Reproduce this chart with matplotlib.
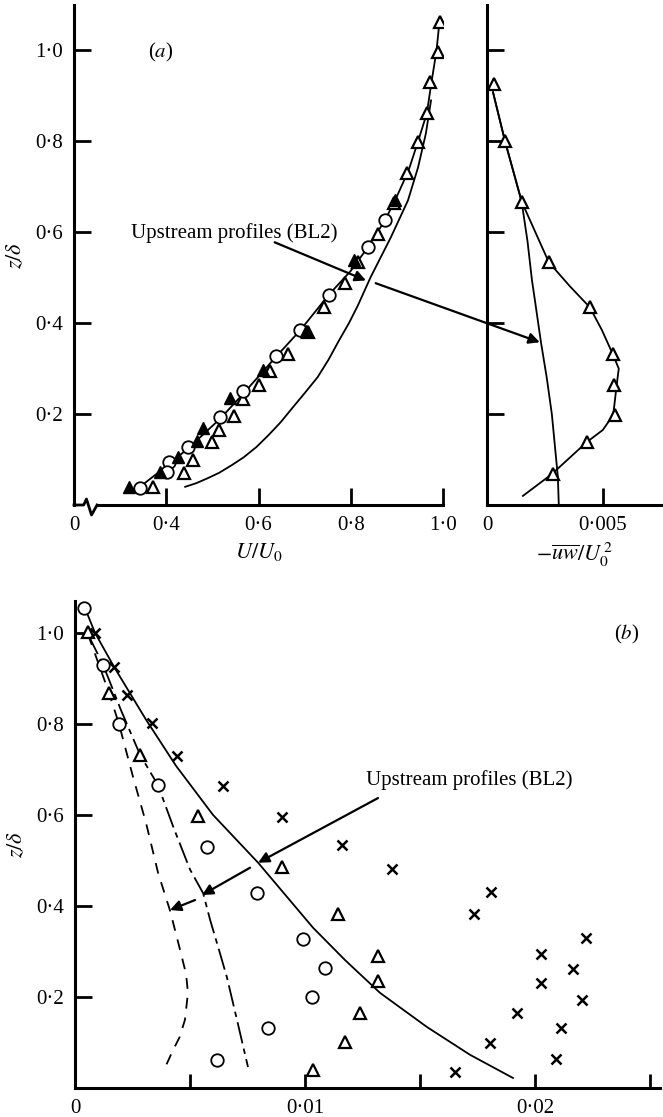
import matplotlib
matplotlib.use("Agg")
import matplotlib.pyplot as plt
from matplotlib.transforms import blended_transform_factory

plt.rcParams['font.family'] = ['Liberation Serif', 'DejaVu Serif']
plt.rcParams['mathtext.fontset'] = 'stix'
plt.rcParams['font.size'] = 15

# ---- (a) mean velocity, U/U0 against z/delta ----
u_tri = [0.993, 0.989, 0.972, 0.965, 0.946, 0.922, 0.893, 0.859, 0.815, 0.787, 0.741,
         0.707, 0.663, 0.626, 0.602, 0.567, 0.546, 0.515, 0.500, 0.459, 0.439, 0.372]
z_tri = [1.062, 0.996, 0.930, 0.862, 0.798, 0.730, 0.664, 0.596, 0.534, 0.488, 0.435,
         0.380, 0.332, 0.295, 0.264, 0.233, 0.196, 0.165, 0.138, 0.100, 0.070, 0.040]
u_circ = [0.874, 0.837, 0.752, 0.691, 0.637, 0.567, 0.517, 0.448, 0.407, 0.402, 0.343]
z_circ = [0.626, 0.567, 0.462, 0.385, 0.327, 0.250, 0.193, 0.127, 0.094, 0.073, 0.037]
u_fill = [0.896, 0.807, 0.704, 0.609, 0.539, 0.480, 0.467, 0.426, 0.387, 0.320]
z_fill = [0.670, 0.538, 0.382, 0.297, 0.235, 0.169, 0.141, 0.105, 0.073, 0.040]
u_fit = [0.311, 0.343, 0.400, 0.448, 0.517, 0.567, 0.637, 0.691, 0.752, 0.800, 0.837,
         0.874, 0.896, 0.925, 0.946, 0.965, 0.975, 0.986, 0.993]
z_fit = [0.029, 0.040, 0.085, 0.125, 0.190, 0.245, 0.325, 0.385, 0.462, 0.515, 0.567,
         0.626, 0.670, 0.735, 0.800, 0.862, 0.930, 1.000, 1.070]
u_up = [0.441, 0.465, 0.490, 0.515, 0.541, 0.568, 0.596, 0.622, 0.648, 0.673, 0.700,
        0.728, 0.752, 0.774, 0.796, 0.815, 0.843, 0.887, 0.924, 0.946, 0.963, 0.974]
z_up = [0.040, 0.048, 0.059, 0.071, 0.087, 0.105, 0.128, 0.154, 0.182, 0.213, 0.246,
        0.281, 0.320, 0.361, 0.400, 0.438, 0.501, 0.589, 0.670, 0.743, 0.818, 0.890]

# ---- (a) shear stress, -uw/U0^2 ----
uw_tri = [0.00030, 0.00078, 0.00151, 0.00267, 0.00444, 0.00543, 0.00547, 0.00552, 0.00431, 0.00284]
zuw_tri = [0.927, 0.800, 0.666, 0.534, 0.435, 0.332, 0.264, 0.198, 0.138, 0.068]
uw_fit = [0.00026, 0.00078, 0.00151, 0.00267, 0.00360, 0.00444, 0.00496, 0.00543, 0.00569,
          0.00560, 0.00545, 0.00500, 0.00430, 0.00280, 0.00155]
zuw_fit = [0.908, 0.800, 0.666, 0.534, 0.480, 0.435, 0.385, 0.332, 0.300,
           0.264, 0.198, 0.165, 0.138, 0.068, 0.020]
uw_up = [0.00026, 0.00078, 0.00150, 0.00175, 0.00194, 0.00207, 0.00233, 0.00258, 0.00280,
         0.00306, 0.00310]
zuw_up = [0.908, 0.800, 0.666, 0.580, 0.495, 0.450, 0.358, 0.280, 0.200, 0.062, 0.000]

# ---- (b) ----
b_tri_x = [0.00057, 0.00148, 0.00283, 0.00535, 0.00900, 0.01143, 0.01317, 0.01317,
           0.01240, 0.01174, 0.01035]
b_tri_z = [1.002, 0.868, 0.732, 0.598, 0.486, 0.382, 0.290, 0.235, 0.165, 0.100, 0.040]
b_circ_x = [0.00039, 0.00122, 0.00191, 0.00360, 0.00574, 0.00791, 0.00991, 0.01087,
            0.01030, 0.00839, 0.00617]
b_circ_z = [1.055, 0.930, 0.800, 0.666, 0.530, 0.428, 0.327, 0.264, 0.200, 0.132, 0.062]
b_cross_x = [0.00087, 0.00170, 0.00226, 0.00335, 0.00443, 0.00643, 0.00900, 0.01160,
             0.01378, 0.01809, 0.01735, 0.02222, 0.02026, 0.02165, 0.02026, 0.02204,
             0.01922, 0.02113, 0.01804, 0.02091, 0.01652]
b_cross_z = [1.000, 0.925, 0.864, 0.802, 0.730, 0.664, 0.596, 0.534, 0.481, 0.431,
             0.382, 0.330, 0.294, 0.262, 0.231, 0.193, 0.165, 0.132, 0.099, 0.064, 0.035]
b_solid_x = [0.00043, 0.00087, 0.00170, 0.00309, 0.00439, 0.00600, 0.00796, 0.01035,
             0.01174, 0.01326, 0.01530, 0.01717, 0.01904]
b_solid_z = [1.055, 1.000, 0.925, 0.809, 0.708, 0.600, 0.495, 0.352,
             0.281, 0.209, 0.134, 0.073, 0.022]
b_dash_x = [0.00057, 0.00148, 0.00191, 0.00252, 0.00309, 0.00361, 0.00413, 0.00457,
            0.00483, 0.00491, 0.00478, 0.00455, 0.00426, 0.00387]
b_dash_z = [0.996, 0.868, 0.800, 0.684, 0.582, 0.473, 0.390, 0.303, 0.250, 0.209,
            0.150, 0.112, 0.083, 0.040]
b_dd_x = [0.00057, 0.00122, 0.00200, 0.00283, 0.00360, 0.00430, 0.00500, 0.00557,
          0.00587, 0.00625, 0.00660, 0.00704, 0.00752]
b_dd_z = [0.996, 0.930, 0.830, 0.732, 0.666, 0.570, 0.480, 0.428, 0.370, 0.305,
          0.244, 0.150, 0.046]

z_ticks = [0.2, 0.4, 0.6, 0.8, 1.0]
z_ticklabels = ['0·2', '0·4', '0·6', '0·8', '1·0']

W, H = 663, 1117
fig = plt.figure(figsize=(W / 100, H / 100), dpi=100)


def box(x0, x1, y_top, y_bot):
    return [x0 / W, 1 - y_bot / H, (x1 - x0) / W, (y_bot - y_top) / H]


def style(ax):
    for s in ('top', 'right'):
        ax.spines[s].set_visible(False)
    for s in ('left', 'bottom'):
        ax.spines[s].set_linewidth(2.2)
    ax.tick_params(direction='in', length=12, width=2.0, labelsize=15, pad=8)


tri_kw = dict(ls='none', marker='^', ms=9, mfc='white', mec='k', mew=1.6)
circ_kw = dict(ls='none', marker='o', ms=9, mfc='white', mec='k', mew=1.3)
arrow_kw = dict(arrowstyle='-|>', lw=1.6, color='k', mutation_scale=16,
                shrinkA=0, shrinkB=0)

# (a) left panel
ax_u = fig.add_axes(box(74, 443, 5, 505))
style(ax_u)
ax_u.set_xlim(0.2, 1.0)
ax_u.set_ylim(0, 1.1)
ax_u.set_xticks([0.2, 0.4, 0.6, 0.8, 1.0], ['0', '0·4', '0·6', '0·8', '1·0'])
ax_u.set_yticks(z_ticks, z_ticklabels)
ax_u.xaxis.get_major_ticks()[0].tick1line.set_visible(False)
ax_u.spines['bottom'].set_bounds(0.25, 1.0)
brk = blended_transform_factory(ax_u.transData, ax_u.transAxes)
ax_u.plot([0.2, 0.221, 0.227, 0.238, 0.25], [0, 0, 0.012, -0.02, 0], color='k',
          lw=2.0, transform=brk, clip_on=False)
ax_u.plot(u_fit, z_fit, color='k', lw=1.3)
ax_u.plot(u_up, z_up, color='k', lw=1.3)
ax_u.plot(u_tri, z_tri, **tri_kw)
ax_u.plot(u_circ, z_circ, **circ_kw)
ax_u.plot(u_fill, z_fill, ls='none', marker='^', ms=9, mfc='k', mec='k')
ax_u.set_xlabel(r'$U/U_0$', fontsize=16, labelpad=4)
ax_u.set_ylabel(r'$z/\delta$', fontsize=16, labelpad=6)
ax_u.text(0.387, 0.996, r'($a$)', ha='center', va='center', fontsize=15)
ax_u.text(0.548, 0.598, 'Upstream profiles (BL2)', ha='center', va='center', fontsize=15)
ax_u.annotate('', xy=(0.833, 0.494), xytext=(0.635, 0.578), arrowprops=arrow_kw)

# (a) right panel
ax_s = fig.add_axes(box(487, 663, 5, 505))
style(ax_s)
ax_s.set_xlim(0, 0.0076)
ax_s.set_ylim(0, 1.1)
ax_s.set_xticks([0, 0.005], ['0', '0·005'])
ax_s.xaxis.get_major_ticks()[0].tick1line.set_visible(False)
ax_s.set_yticks(z_ticks, [])
ax_s.plot(uw_fit, zuw_fit, color='k', lw=1.3)
ax_s.plot(uw_up, zuw_up, color='k', lw=1.3)
ax_s.plot(uw_tri, zuw_tri, **tri_kw)
ax_s.set_xlabel(r'$-\overline{uw}/U_0^{\,2}$', fontsize=16, labelpad=4)
ax_s.annotate('', xy=(0.00228, 0.358), xycoords='data', xytext=(0.854, 0.488),
              textcoords=ax_u.transData, arrowprops=arrow_kw, annotation_clip=False)

# (b)
ax_b = fig.add_axes(box(75, 660, 601, 1088))
style(ax_b)
ax_b.set_xlim(0, 0.02543)
ax_b.set_ylim(0, 1.07)
ax_b.set_xticks([0, 0.005, 0.01, 0.015, 0.02, 0.025], ['0', '', '0·01', '', '0·02', ''])
ax_b.xaxis.get_major_ticks()[0].tick1line.set_visible(False)
ax_b.set_yticks(z_ticks, z_ticklabels)
ax_b.tick_params(axis='x', length=10)
ax_b.plot(b_solid_x, b_solid_z, color='k', lw=1.3)
ax_b.plot(b_dash_x, b_dash_z, color='k', lw=1.3, dashes=(6, 5))
ax_b.plot(b_dd_x, b_dd_z, color='k', lw=1.3, dashes=(12, 3, 3, 3))
ax_b.plot(b_tri_x, b_tri_z, **tri_kw)
ax_b.plot(b_circ_x, b_circ_z, **circ_kw)
ax_b.plot(b_cross_x, b_cross_z, ls='none', marker='x', ms=7, mec='k', mew=1.8)
ax_b.set_ylabel(r'$z/\delta$', fontsize=16, labelpad=6)
ax_b.text(0.024, 0.996, r'($b$)', ha='center', va='center', fontsize=15)
ax_b.text(0.01713, 0.677, 'Upstream profiles (BL2)', ha='center', va='center', fontsize=15)
ax_b.annotate('', xy=(0.00796, 0.495), xytext=(0.01317, 0.637), arrowprops=arrow_kw)
ax_b.annotate('', xy=(0.00552, 0.424), xytext=(0.00761, 0.484), arrowprops=arrow_kw)
ax_b.annotate('', xy=(0.00413, 0.391), xytext=(0.00522, 0.413), arrowprops=arrow_kw)

fig.savefig('out.png', dpi=100, facecolor='white')
